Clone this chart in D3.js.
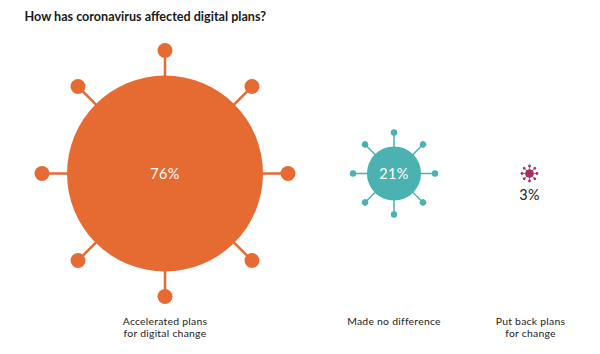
<!DOCTYPE html>
<html>
<head>
<meta charset="utf-8">
<script src="https://cdn.jsdelivr.net/npm/d3@7"></script>
<style>
body { margin: 0; background: #fff; }
text { font-family: Lato, sans-serif; }
</style>
</head>
<body>
<div id="chart"></div>
<script>
const width = 600;
const height = 354;
const title = 'How has coronavirus affected digital plans?';

const categories = ['accelerated', 'noDifference', 'putBack'];
const values = [76, 21, 3];
const labelLines = [
    ['Accelerated plans', 'for digital change'],
    ['Made no difference'],
    ['Put back plans', 'for change']
];
const colors = ['#e66b33', '#4bb1b1', '#a82e62'];
const spikeAngles = [0, 45, 90, 135, 180, 225, 270, 315];

const data = categories.map((c, i) => ({ key: c, value: values[i], lines: labelLines[i], color: colors[i] }));

const x = d3.scaleOrdinal().domain(categories).range([165, 394, 529.5]);
const centerY = 173.5;

// radius goes with the value, not the area
const radius = d3.scaleLinear().domain([0, 76]).range([0, 98]);
const armLength = d3.scaleLinear().domain([3, 21, 76]).range([7.5, 41, 123]);
const knobRadius = d3.scaleLinear().domain([3, 21, 76]).range([1.4, 3.2, 7.5]);
const armWidth = d3.scaleLinear().domain([3, 21, 76]).range([0.7, 1.5, 2.5]);

const svg = d3.select('#chart')
    .append('svg')
    .attr('width', width)
    .attr('height', height);

svg.append('text')
    .attr('x', 24.5)
    .attr('y', 21)
    .attr('font-size', 12.6)
    .attr('font-weight', 700)
    .attr('fill', '#1a1a1a')
    .text(title);

const virus = svg.selectAll('g.virus')
    .data(data)
    .enter()
    .append('g')
    .attr('class', 'virus')
    .attr('transform', d => `translate(${x(d.key)},${centerY})`);

// spikes
const spike = virus.selectAll('g.spike')
    .data(d => spikeAngles.map(a => ({ angle: a, d })))
    .enter()
    .append('g')
    .attr('class', 'spike')
    .attr('transform', s => `rotate(${s.angle})`);

spike.append('line')
    .attr('y1', 0)
    .attr('y2', s => -armLength(s.d.value))
    .attr('stroke', s => s.d.color)
    .attr('stroke-width', s => armWidth(s.d.value));

spike.append('circle')
    .attr('cy', s => -armLength(s.d.value))
    .attr('r', s => knobRadius(s.d.value))
    .attr('fill', s => s.d.color);

virus.append('circle')
    .attr('r', d => radius(d.value) + (d.value < 10 ? 0.5 : 0))
    .attr('fill', d => d.color);

// percentage, white inside the circle, dark below the tiny one
virus.append('text')
    .attr('text-anchor', 'middle')
    .attr('y', d => d.value > 10 ? 5 : 26.5)
    .attr('font-size', 14.4)
    .attr('letter-spacing', 0.4)
    .attr('fill', d => d.value > 10 ? '#fff' : '#222')
    .text(d => d.value + '%');

// category labels, one text per line
data.forEach(d => {
    svg.selectAll(null)
        .data(d.lines)
        .enter()
        .append('text')
        .attr('class', 'label')
        .attr('text-anchor', 'middle')
        .attr('font-size', 10.4)
        .attr('letter-spacing', 0.25)
        .attr('fill', '#222')
        .attr('x', x(d.key) + (d.key === 'putBack' ? 1 : 0))
        .attr('y', (l, i) => 325 + i * 11.5)
        .text(l => l);
});
</script>
</body>
</html>
